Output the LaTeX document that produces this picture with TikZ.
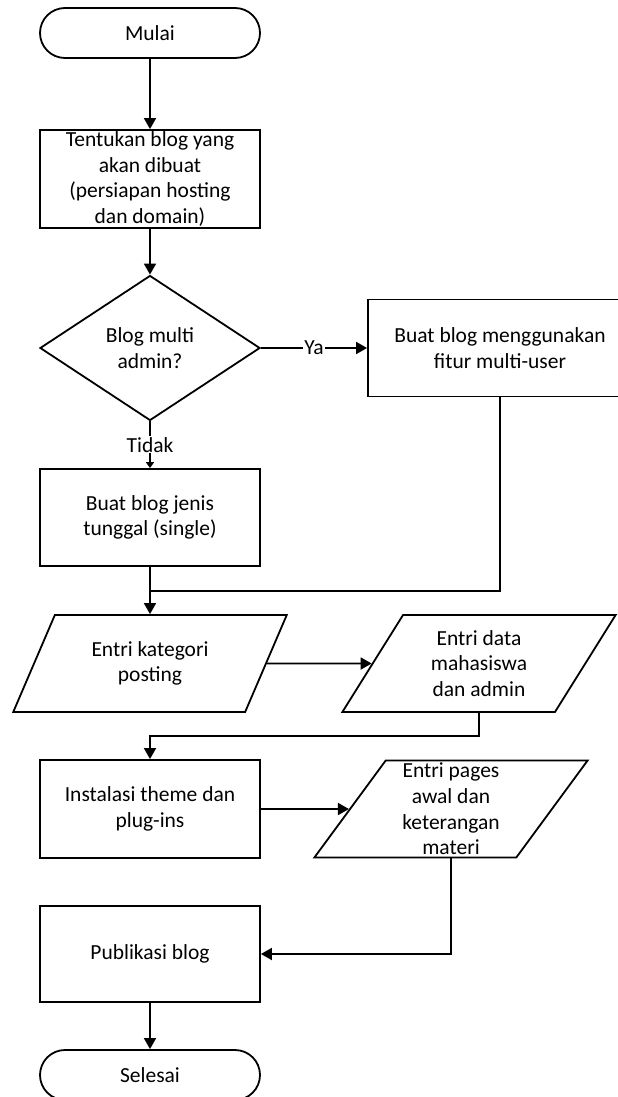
\documentclass[tikz,border=0pt]{standalone}
\usepackage{fontspec}
\setmainfont{Carlito}
\usetikzlibrary{shapes.geometric,arrows.meta,positioning}

\begin{document}
\begin{tikzpicture}[->,>={Triangle[length=11pt,width=12pt]},line width=1.8pt,node distance=146pt,
  font=\fontsize{21.5}{25.7}\selectfont,
  term/.style={rectangle,rounded corners=25pt,draw,minimum width=220pt,minimum height=50pt,inner sep=0pt},
  proc/.style={rectangle,draw,minimum width=220pt,minimum height=97pt,inner sep=0pt,align=center},
  decision/.style={diamond,draw,minimum width=220pt,minimum height=145pt,inner sep=0pt,align=center},
  io/.style={trapezium,trapezium left angle=60,trapezium right angle=120,trapezium stretches=true,
    draw,minimum width=274pt,minimum height=97pt,inner sep=0pt,align=center}]
  \clip (0,0) rectangle (618pt,-1097pt);
  \node[term]        (start) at (150pt,-33pt) {Mulai};
  \node[proc,minimum height=98pt] (define) [below of=start] {Tentukan blog yang\\akan dibuat\\(persiapan hosting\\dan domain)};
  \node[decision]    (decide) [below of=define,node distance=169pt] {Blog multi\\admin?};
  \node[proc,minimum width=264pt] (multi) [right of=decide,node distance=350pt] {Buat blog menggunakan\\fitur multi-user};
  \node[proc]        (single) [below of=decide,node distance=169.5pt] {Buat blog jenis\\tunggal (single)};
  \node[io]          (cat) [below of=single] {Entri kategori\\posting};
  \node[io]          (data) [right of=cat,node distance=329pt] {Entri data\\mahasiswa\\dan admin};
  \node[proc,minimum height=98pt] (theme) [below of=cat,node distance=145.5pt] {Instalasi theme dan\\plug-ins};
  \node[io]          (pages) [right of=theme,node distance=301pt] {Entri pages\\awal dan\\keterangan\\materi};
  \node[proc,minimum height=96pt] (publish) [below of=theme,node distance=145pt] {Publikasi blog};
  \node[term]        (stop) [below of=publish,node distance=121pt] {Selesai};

  \coordinate[below=24pt of single.south] (join1);
  \coordinate[above=23pt of theme.north] (join2);

  \path (start)  edge (define)
        (define) edge (decide)
        (decide) edge node[fill=white,inner sep=1pt] {Ya} (multi)
                 edge [-{Triangle[length=6pt,width=8pt]}] node[fill=white,inner sep=1pt] {Tidak} (single)
        (single) edge (cat)
        (cat)    edge (data)
        (theme)  edge (pages)
        (publish) edge (stop);
  \draw[-] (multi) |- (join1);
  \draw (data.south) |- (join2) -- (theme);
  \draw (pages.south) |- (publish.east);
\end{tikzpicture}
\end{document}
